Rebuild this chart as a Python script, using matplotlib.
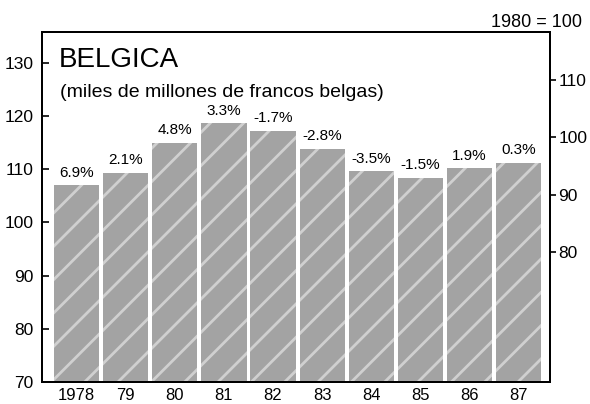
import matplotlib
matplotlib.use('Agg')
import matplotlib.pyplot as plt

plt.rcParams['font.family'] = ['Liberation Sans', 'DejaVu Sans']
plt.rcParams['hatch.linewidth'] = 2.0

years = ['1978', '79', '80', '81', '82', '83', '84', '85', '86', '87']
values = [107.0, 109.3, 115.0, 118.6, 117.2, 113.8, 109.6, 108.4, 110.2, 111.2]
changes = ['6.9%', '2.1%', '4.8%', '3.3%', '-1.7%', '-2.8%', '-3.5%', '-1.5%', '1.9%', '0.3%']
left_ticks = [70, 80, 90, 100, 110, 120, 130]
right_ticks = [80, 90, 100, 110]

fig = plt.figure(figsize=(5.9, 4.04), dpi=100)
ax = fig.add_axes([0.071, 0.054, 0.861, 0.867])

x = list(range(len(years)))
bars = ax.bar(x, values, width=0.92, color='#a3a3a3', edgecolor='#d0d0d0',
              linewidth=0, hatch='/')
for b, lab in zip(bars, changes):
    ax.annotate(lab, (b.get_x() + b.get_width() / 2, b.get_height()),
                xytext=(0, 4), textcoords='offset points',
                ha='center', va='bottom', fontsize=11)

ax.set_xlim(-0.71, 9.64)
ax.set_ylim(70, 135.8)
ax.set_xticks(x)
ax.set_xticklabels(years)
ax.set_yticks(left_ticks)
ax.tick_params(axis='x', length=0, pad=4, labelsize=12)
ax.tick_params(axis='y', direction='in', length=5, width=1.2, pad=6, labelsize=12.5)
for s in ax.spines.values():
    s.set_linewidth(1.4)

ax2 = ax.twinx()
ax2.set_ylim(57.3, 118.4)
ax2.set_yticks(right_ticks)
ax2.tick_params(axis='y', direction='out', length=4, width=1.2, pad=2, labelsize=12.5)
for s in ax2.spines.values():
    s.set_linewidth(1.4)

ax.text(0.033, 0.9, 'BELGICA', transform=ax.transAxes, fontsize=20,
        va='baseline', ha='left')
ax.text(0.035, 0.814, '(miles de millones de francos belgas)', transform=ax.transAxes,
        fontsize=14, va='baseline', ha='left')
fig.text(0.986, 0.933, '1980 = 100', fontsize=13, ha='right', va='baseline')

fig.savefig('out.png', dpi=100)
